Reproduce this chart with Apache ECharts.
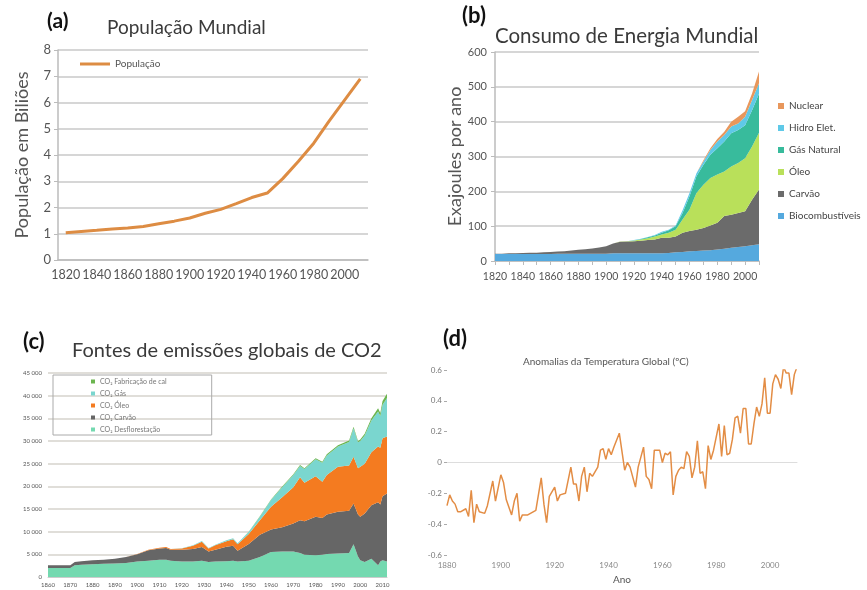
<!DOCTYPE html>
<html>
<head>
<meta charset="utf-8">
<script src="https://cdn.jsdelivr.net/npm/echarts@6/dist/echarts.min.js"></script>
<style>
  html, body { margin: 0; padding: 0; background: #fff; }
  #chart { width: 867px; height: 590px; }
</style>
</head>
<body>
<div id="chart"></div>
<script>
// (a) população mundial, bilhões
var popYears = ['1820','1830','1840','1850','1860','1870','1880','1890','1900','1910',
                '1920','1930','1940','1950','1960','1970','1980','1990','2000','2010'];
var popValues = [1.04,1.09,1.13,1.18,1.22,1.28,1.38,1.48,1.6,1.78,
                 1.93,2.15,2.38,2.55,3.1,3.75,4.45,5.3,6.1,6.9];

// (b) consumo de energia, exajoules por ano
var energyYears = ['1820','1825','1830','1835','1840','1845','1850','1855','1860','1865',
                   '1870','1875','1880','1885','1890','1895','1900','1905','1910','1915',
                   '1920','1925','1930','1935','1940','1945','1950','1955','1960','1965',
                   '1970','1975','1980','1985','1990','1995','2000','2005','2010'];
var bioValues     = [20,20,20,20,20,20,20,20,20,21,21,21,21,21,21,21,21,22,22,22,22,22,22,22,22,23,25,26,28,29,30,31,33,35,38,40,42,45,48];
var coalValues    = [1,1,2,2,3,4,4,5,6,6,7,9,11,13,15,18,21,28,33,34,35,36,38,40,45,44,45,55,58,61,65,71,77,94,95,98,101,131,157];
var oilValues     = [0,0,0,0,0,0,0,0,0,0,0,0,0,0,0,0,0,0,1,1,2,4,5,8,9,14,20,38,62,105,124,136,138,128,138,143,152,153,163];
var gasValues     = [0,0,0,0,0,0,0,0,0,0,0,0,0,0,0,0,0,0,0,0,0,1,3,3,5,7,10,19,38,48,57,67,76,86,96,95,95,104,112];
var hydroValues   = [0,0,0,0,0,0,0,0,0,0,0,0,0,0,0,0,0,0,0,0,1,1,1,2,3,2,2,8,9,9,10,14,19,19,19,19,24,29,30];
var nuclearValues = [0,0,0,0,0,0,0,0,0,0,0,0,0,0,0,0,0,0,0,0,0,0,0,0,0,0,0,0,0,0,3,5,7,9,14,19,16,19,34];

// (c) emissões de CO2
var co2Years = ['1860','1865','1870','1872','1875','1880','1885','1890','1895','1900','1905','1910','1913','1915','1920','1925','1929','1932',
                '1935','1940','1943','1945','1950','1955','1960','1965','1970','1973','1975','1980','1983','1985','1990','1995','1997','1999',
                '2000','2002','2005','2008','2009','2010','2012'];
var deforestValues = [2000,2000,2000,2600,2700,2800,2900,3000,3100,3400,3600,3800,3800,3600,3400,3400,3600,3300,
                      3400,3500,3600,3400,3600,4400,5500,5600,5600,5300,4900,4800,4900,5100,5200,5300,7200,4500,
                      3700,3300,4000,2600,3400,3700,3400];
var coalCo2Values  = [600,600,600,700,800,900,900,1000,1300,1600,2300,2500,2600,2400,2600,2800,3000,2300,
                      2600,3200,3300,2400,3700,4900,5000,5400,6200,7200,7400,8500,8100,8700,9200,9300,9000,9300,
                      9600,10700,11800,13900,12600,14100,15000];
var oilCo2Values   = [0,0,0,0,0,0,0,0,0,50,100,150,200,200,300,700,1200,700,
                      1000,1200,1400,1400,2200,3200,5000,6600,8000,9500,8500,8900,8000,8700,9900,10000,10300,10200,
                      11000,11000,11700,12300,12500,12800,12600];
var gasCo2Values   = [0,0,0,0,0,0,0,0,0,0,0,0,0,0,50,80,120,100,
                      120,200,250,250,400,800,1500,2200,2700,2500,3000,3800,4200,4300,4500,5200,6300,5700,
                      5700,6200,7000,7700,7000,7400,8500];
var cementValues   = [0,0,0,0,0,0,0,0,0,0,0,0,0,0,0,0,0,0,
                      0,0,0,0,80,100,120,150,180,200,200,220,220,250,280,300,320,320,
                      350,400,500,700,700,800,900];

// (d) anomalias da temperatura global
var tempYears = [1880,1881,1882,1883,1884,1885,1887,1888,1889,1890,1891,1892,1894,1895,1897,1898,1900,1901,1902,
                 1904,1905,1906,1907,1908,1910,1911,1913,1915,1916,1917,1918,1920,1921,1922,1924,1926,1927,1928,
                 1929,1930,1931,1932,1933,1934,1936,1937,1938,1939,1940,1941,1942,1944,1946,1947,1948,1950,1951,
                 1953,1954,1955,1956,1957,1959,1960,1961,1962,1963,1964,1965,1966,1967,1968,1969,1970,1971,1972,
                 1973,1974,1975,1976,1977,1978,1979,1981,1982,1983,1984,1985,1986,1987,1988,1989,1990,1991,1992,
                 1993,1994,1995,1996,1997,1998,1999,2000,2001,2002,2003,2004,2005,2006,2007,2008,2009,2010];
var tempValues = [-0.28,-0.21,-0.25,-0.27,-0.32,-0.32,-0.30,-0.35,-0.18,-0.39,-0.27,-0.32,-0.33,-0.28,-0.12,-0.25,-0.08,-0.13,-0.24,
                  -0.34,-0.25,-0.20,-0.38,-0.34,-0.34,-0.33,-0.31,-0.10,-0.27,-0.39,-0.22,-0.16,-0.25,-0.21,-0.20,-0.03,-0.14,-0.14,
                  -0.25,-0.09,-0.03,-0.19,-0.07,-0.09,-0.03,0.08,0.09,0.02,0.09,0.05,0.10,0.19,-0.05,0.00,-0.03,-0.16,-0.03,
                  0.10,-0.09,-0.11,-0.17,0.08,0.08,0.00,0.06,0.05,0.07,-0.21,-0.09,-0.05,-0.03,-0.04,0.07,0.04,-0.10,-0.03,
                  0.14,-0.07,-0.06,-0.17,0.11,0.02,0.08,0.25,0.04,0.24,0.05,0.06,0.15,0.29,0.30,0.19,0.35,0.35,0.12,
                  0.12,0.25,0.36,0.30,0.38,0.55,0.32,0.32,0.51,0.57,0.54,0.48,0.62,0.58,0.58,0.44,0.57,0.62];

var font = 'Lato, "Noto Sans", sans-serif';
var chart = echarts.init(document.getElementById('chart'));

// eixo anual do painel (c): um rótulo a cada 10 anos
var co2Axis = [];
for (var y = 1860; y <= 2012; y++) co2Axis.push(String(y));

function pairs(xs, ys) {
  return xs.map(function (x, i) { return [x, ys[i]]; });
}

function areaSeries(name, data, color, stack, axis) {
  return {
    name: name, type: 'line', stack: stack, data: data,
    xAxisIndex: axis, yAxisIndex: axis,
    symbol: 'none', lineStyle: { width: 0 },
    itemStyle: { color: color },
    areaStyle: { color: color, opacity: 1 }
  };
}

var co2Name = function (txt) { return 'CO₂ ' + txt; };

var option = {
  animation: false,
  textStyle: { fontFamily: font },
  title: [
    { text: '(a)', left: 47, top: 11, padding: 0, textStyle: { fontSize: 21, fontWeight: 'bold', color: '#111', fontFamily: font } },
    { text: 'População Mundial', left: 107, top: 18, padding: 0, textStyle: { fontSize: 19, fontWeight: 'normal', color: '#3a3a3a', fontFamily: font } },
    { text: '(b)', left: 462, top: 5, padding: 0, textStyle: { fontSize: 22, fontWeight: 'bold', color: '#111', fontFamily: font } },
    { text: 'Consumo de Energia Mundial', left: 495, top: 26, padding: 0, textStyle: { fontSize: 20.5, fontWeight: 'normal', color: '#3a3a3a', fontFamily: font } },
    { text: '(c)', left: 23, top: 331, padding: 0, textStyle: { fontSize: 22, fontWeight: 'bold', color: '#111', fontFamily: font } },
    { text: 'Fontes de emissões globais de CO2', left: 72, top: 341, padding: 0, textStyle: { fontSize: 20, fontWeight: 'normal', color: '#3a3a3a', fontFamily: font } },
    { text: '(d)', left: 443, top: 328, padding: 0, textStyle: { fontSize: 22, fontWeight: 'bold', color: '#111', fontFamily: font } },
    { text: 'Anomalias da Temperatura Global (ºC)', left: 523, top: 357, padding: 0, textStyle: { fontSize: 10, fontWeight: 'normal', color: '#555', fontFamily: font } }
  ],
  legend: [
    {
      data: ['População'], left: 75, top: 54, icon: 'rect', itemWidth: 30, itemHeight: 3,
      textStyle: { fontSize: 10, color: '#555' }
    },
    {
      data: ['Nuclear', 'Hidro Elet.', 'Gás Natural', 'Óleo', 'Carvão', 'Biocombustíveis'],
      orient: 'vertical', left: 773, top: 96, icon: 'rect', itemWidth: 6, itemHeight: 6, itemGap: 12,
      textStyle: { fontSize: 10, color: '#444' }
    },
    {
      data: [co2Name('Fabricação de cal'), co2Name('Gás'), co2Name('Óleo'), co2Name('Carvão'), co2Name('Desflorestação')],
      orient: 'vertical', left: 53, top: 375, icon: 'rect', itemWidth: 4, itemHeight: 4, itemGap: 5,
      padding: [3, 45, 2, 38], borderColor: '#aaa', borderWidth: 1,
      textStyle: { fontSize: 7, color: '#777' }
    }
  ],
  grid: [
    { left: 58, top: 50, width: 310, height: 210 },
    { left: 495, top: 52, width: 264, height: 209 },
    { left: 48, top: 373, width: 339, height: 204 },
    { left: 447, top: 370, width: 350, height: 185 }
  ],
  xAxis: [
    {
      gridIndex: 0, type: 'category', data: popYears, boundaryGap: true,
      axisLine: { lineStyle: { color: '#bbb', width: 1.5 } },
      axisTick: { interval: 0, length: 4, lineStyle: { color: '#bbb' } },
      axisLabel: { interval: 1, fontSize: 12.5, color: '#555', margin: 8 }
    },
    {
      gridIndex: 1, type: 'category', data: energyYears, boundaryGap: false,
      axisLine: { lineStyle: { color: '#bbb', width: 1.5 } },
      axisTick: { interval: 1, length: 4, lineStyle: { color: '#bbb' } },
      axisLabel: { interval: 3, fontSize: 10.5, color: '#555', margin: 10 }
    },
    {
      gridIndex: 2, type: 'category', data: co2Axis, boundaryGap: false,
      axisLine: { lineStyle: { color: '#ccc' } },
      axisTick: { show: false },
      splitLine: { show: false },
      axisLabel: { interval: 9, fontSize: 6, color: '#555', margin: 5 }
    },
    {
      gridIndex: 3, type: 'value', min: 1880, max: 2010, interval: 20,
      axisLine: { lineStyle: { color: '#ddd' } },
      axisTick: { show: false },
      splitLine: { show: false },
      axisLabel: {
        fontSize: 8, color: '#888', margin: 6,
        formatter: function (v) { return v % 20 === 0 ? String(v) : ''; }
      },
      name: 'Ano', nameLocation: 'middle', nameGap: 20,
      nameTextStyle: { fontSize: 10, color: '#555' }
    }
  ],
  yAxis: [
    {
      gridIndex: 0, type: 'value', min: 0, max: 8, interval: 1,
      axisLine: { show: true, lineStyle: { color: '#bbb', width: 1.5 } },
      axisTick: { show: true, length: 4, lineStyle: { color: '#bbb' } },
      splitLine: { lineStyle: { color: '#c8c8c8', width: 1.5 } },
      axisLabel: { fontSize: 13, color: '#555', margin: 7 },
      name: 'População em Biliões', nameLocation: 'middle', nameRotate: 90, nameGap: 27,
      nameTextStyle: { fontSize: 18, color: '#555' }
    },
    {
      gridIndex: 1, type: 'value', min: 0, max: 600, interval: 100,
      axisLine: { show: true, lineStyle: { color: '#bbb', width: 1.5 } },
      axisTick: { show: true, length: 4, lineStyle: { color: '#bbb' } },
      splitLine: { lineStyle: { color: '#c8c8c8', width: 1.5 } },
      axisLabel: { fontSize: 11, color: '#555', margin: 8 },
      name: 'Exajoules por ano', nameLocation: 'middle', nameRotate: 90, nameGap: 31,
      nameTextStyle: { fontSize: 18, color: '#555' }
    },
    {
      gridIndex: 2, type: 'value', min: 0, max: 45000, interval: 5000,
      axisLine: { show: false }, axisTick: { show: false },
      splitLine: { lineStyle: { color: '#d6d3cc', width: 1.5 } },
      axisLabel: {
        fontSize: 6, color: '#555', margin: 6,
        formatter: function (v) { return String(v).replace(/\B(?=(\d{3})+$)/, ' '); }
      }
    },
    {
      gridIndex: 3, type: 'value', min: -0.6, max: 0.6, interval: 0.2,
      axisLine: { show: false },
      axisTick: { show: true, length: 3, lineStyle: { color: '#aaa' } },
      splitLine: { show: true, lineStyle: { color: ['rgba(0,0,0,0)', 'rgba(0,0,0,0)', 'rgba(0,0,0,0)', '#ddd', 'rgba(0,0,0,0)', 'rgba(0,0,0,0)', 'rgba(0,0,0,0)'] } },
      axisLabel: {
        fontSize: 8, color: '#777', margin: 5,
        formatter: function (v) { return Math.abs(v) < 1e-9 ? '0' : v.toFixed(1); }
      }
    }
  ],
  series: [
    {
      name: 'População', type: 'line', data: popValues, xAxisIndex: 0, yAxisIndex: 0,
      symbol: 'none', lineStyle: { color: '#dd8c43', width: 3 }, itemStyle: { color: '#dd8c43' }
    },
    areaSeries('Biocombustíveis', bioValues, '#55a9de', 'energia', 1),
    areaSeries('Carvão', coalValues, '#6b6b6b', 'energia', 1),
    areaSeries('Óleo', oilValues, '#b9e05a', 'energia', 1),
    areaSeries('Gás Natural', gasValues, '#38bb9c', 'energia', 1),
    areaSeries('Hidro Elet.', hydroValues, '#5fc9e8', 'energia', 1),
    areaSeries('Nuclear', nuclearValues, '#e8975c', 'energia', 1),
    areaSeries(co2Name('Desflorestação'), pairs(co2Years, deforestValues), '#74d9b0', 'co2', 2),
    areaSeries(co2Name('Carvão'), pairs(co2Years, coalCo2Values), '#666666', 'co2', 2),
    areaSeries(co2Name('Óleo'), pairs(co2Years, oilCo2Values), '#f47b20', 'co2', 2),
    areaSeries(co2Name('Gás'), pairs(co2Years, gasCo2Values), '#7ad6cf', 'co2', 2),
    areaSeries(co2Name('Fabricação de cal'), pairs(co2Years, cementValues), '#6bb54f', 'co2', 2),
    {
      name: 'Anomalia', type: 'line', data: pairs(tempYears, tempValues), xAxisIndex: 3, yAxisIndex: 3,
      symbol: 'none', lineStyle: { color: '#e38d45', width: 1.5 }, itemStyle: { color: '#e38d45' }
    }
  ]
};

chart.setOption(option);
</script>
</body>
</html>
